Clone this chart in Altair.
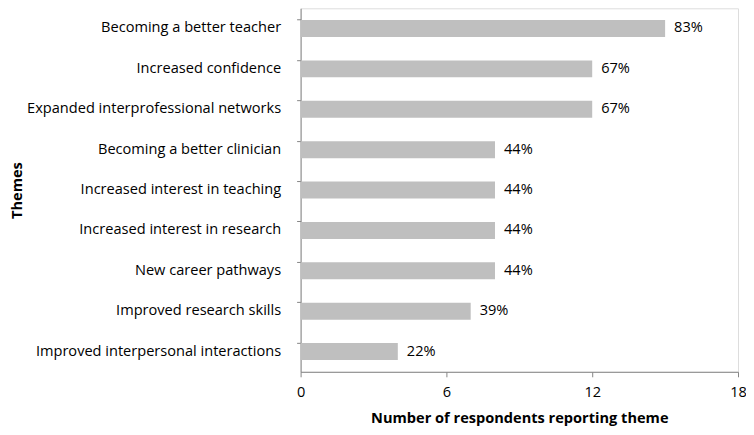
import altair as alt
import pandas as pd

themes = [
    "Becoming a better teacher",
    "Increased confidence",
    "Expanded interprofessional networks",
    "Becoming a better clinician",
    "Increased interest in teaching",
    "Increased interest in research",
    "New career pathways",
    "Improved research skills",
    "Improved interpersonal interactions",
]
counts = [15, 12, 12, 8, 8, 8, 8, 7, 4]
percents = ["83%", "67%", "67%", "44%", "44%", "44%", "44%", "39%", "22%"]
x_ticks = [0, 6, 12, 18]

df = pd.DataFrame({"theme": themes, "count": counts, "pct": percents})

FONT = "Open Sans"
FS = 14.6
AXIS_COLOR = "#868686"

y_enc = alt.Y(
    "theme:N",
    sort=themes,
    title="Themes",
    scale=alt.Scale(paddingInner=0.58, paddingOuter=0.29),
    axis=alt.Axis(
        bandPosition=0,
        labelFontSize=FS,
        labelFont=FONT,
        labelColor="black",
        labelPadding=16,
        labelLimit=400,
        titleFontSize=FS,
        titleFont=FONT,
        titleFontWeight="bold",
        titleColor="black",
        titleX=-283,
        titleY=182,
        titleAngle=-90,
        titleAlign="center",
        titleBaseline="middle",
        domainColor=AXIS_COLOR,
        tickColor=AXIS_COLOR,
        tickSize=4,
    ),
)

x_enc = alt.X(
    "count:Q",
    title="Number of respondents reporting theme",
    scale=alt.Scale(domain=[0, 18], nice=False),
    axis=alt.Axis(
        values=x_ticks,
        grid=False,
        labelFlush=False,
        labelFontSize=FS,
        labelFont=FONT,
        labelColor="black",
        labelPadding=8,
        titleFontSize=FS,
        titleFont=FONT,
        titleFontWeight="bold",
        titleColor="black",
        titlePadding=11,
        domainColor=AXIS_COLOR,
        tickColor=AXIS_COLOR,
        tickSize=5,
    ),
)

bars = alt.Chart(df).mark_bar(color="#bfbfbf").encode(y=y_enc, x=x_enc)
labels = alt.Chart(df).mark_text(
    align="left", baseline="middle", dx=9, fontSize=FS, font=FONT, color="black"
).encode(y=alt.Y("theme:N", sort=themes), x=alt.X("count:Q"), text="pct:N")

chart = (
    alt.layer(bars, labels)
    .properties(
        width=438,
        height=364,
        autosize=alt.AutoSizeParams(type="none"),
        padding={"left": 293, "top": 0, "right": 8, "bottom": 55},
    )
    .configure_view(stroke=None)
    .configure(background="white")
)

chart.save("out.html", embed_options={"renderer": "svg", "actions": False})
